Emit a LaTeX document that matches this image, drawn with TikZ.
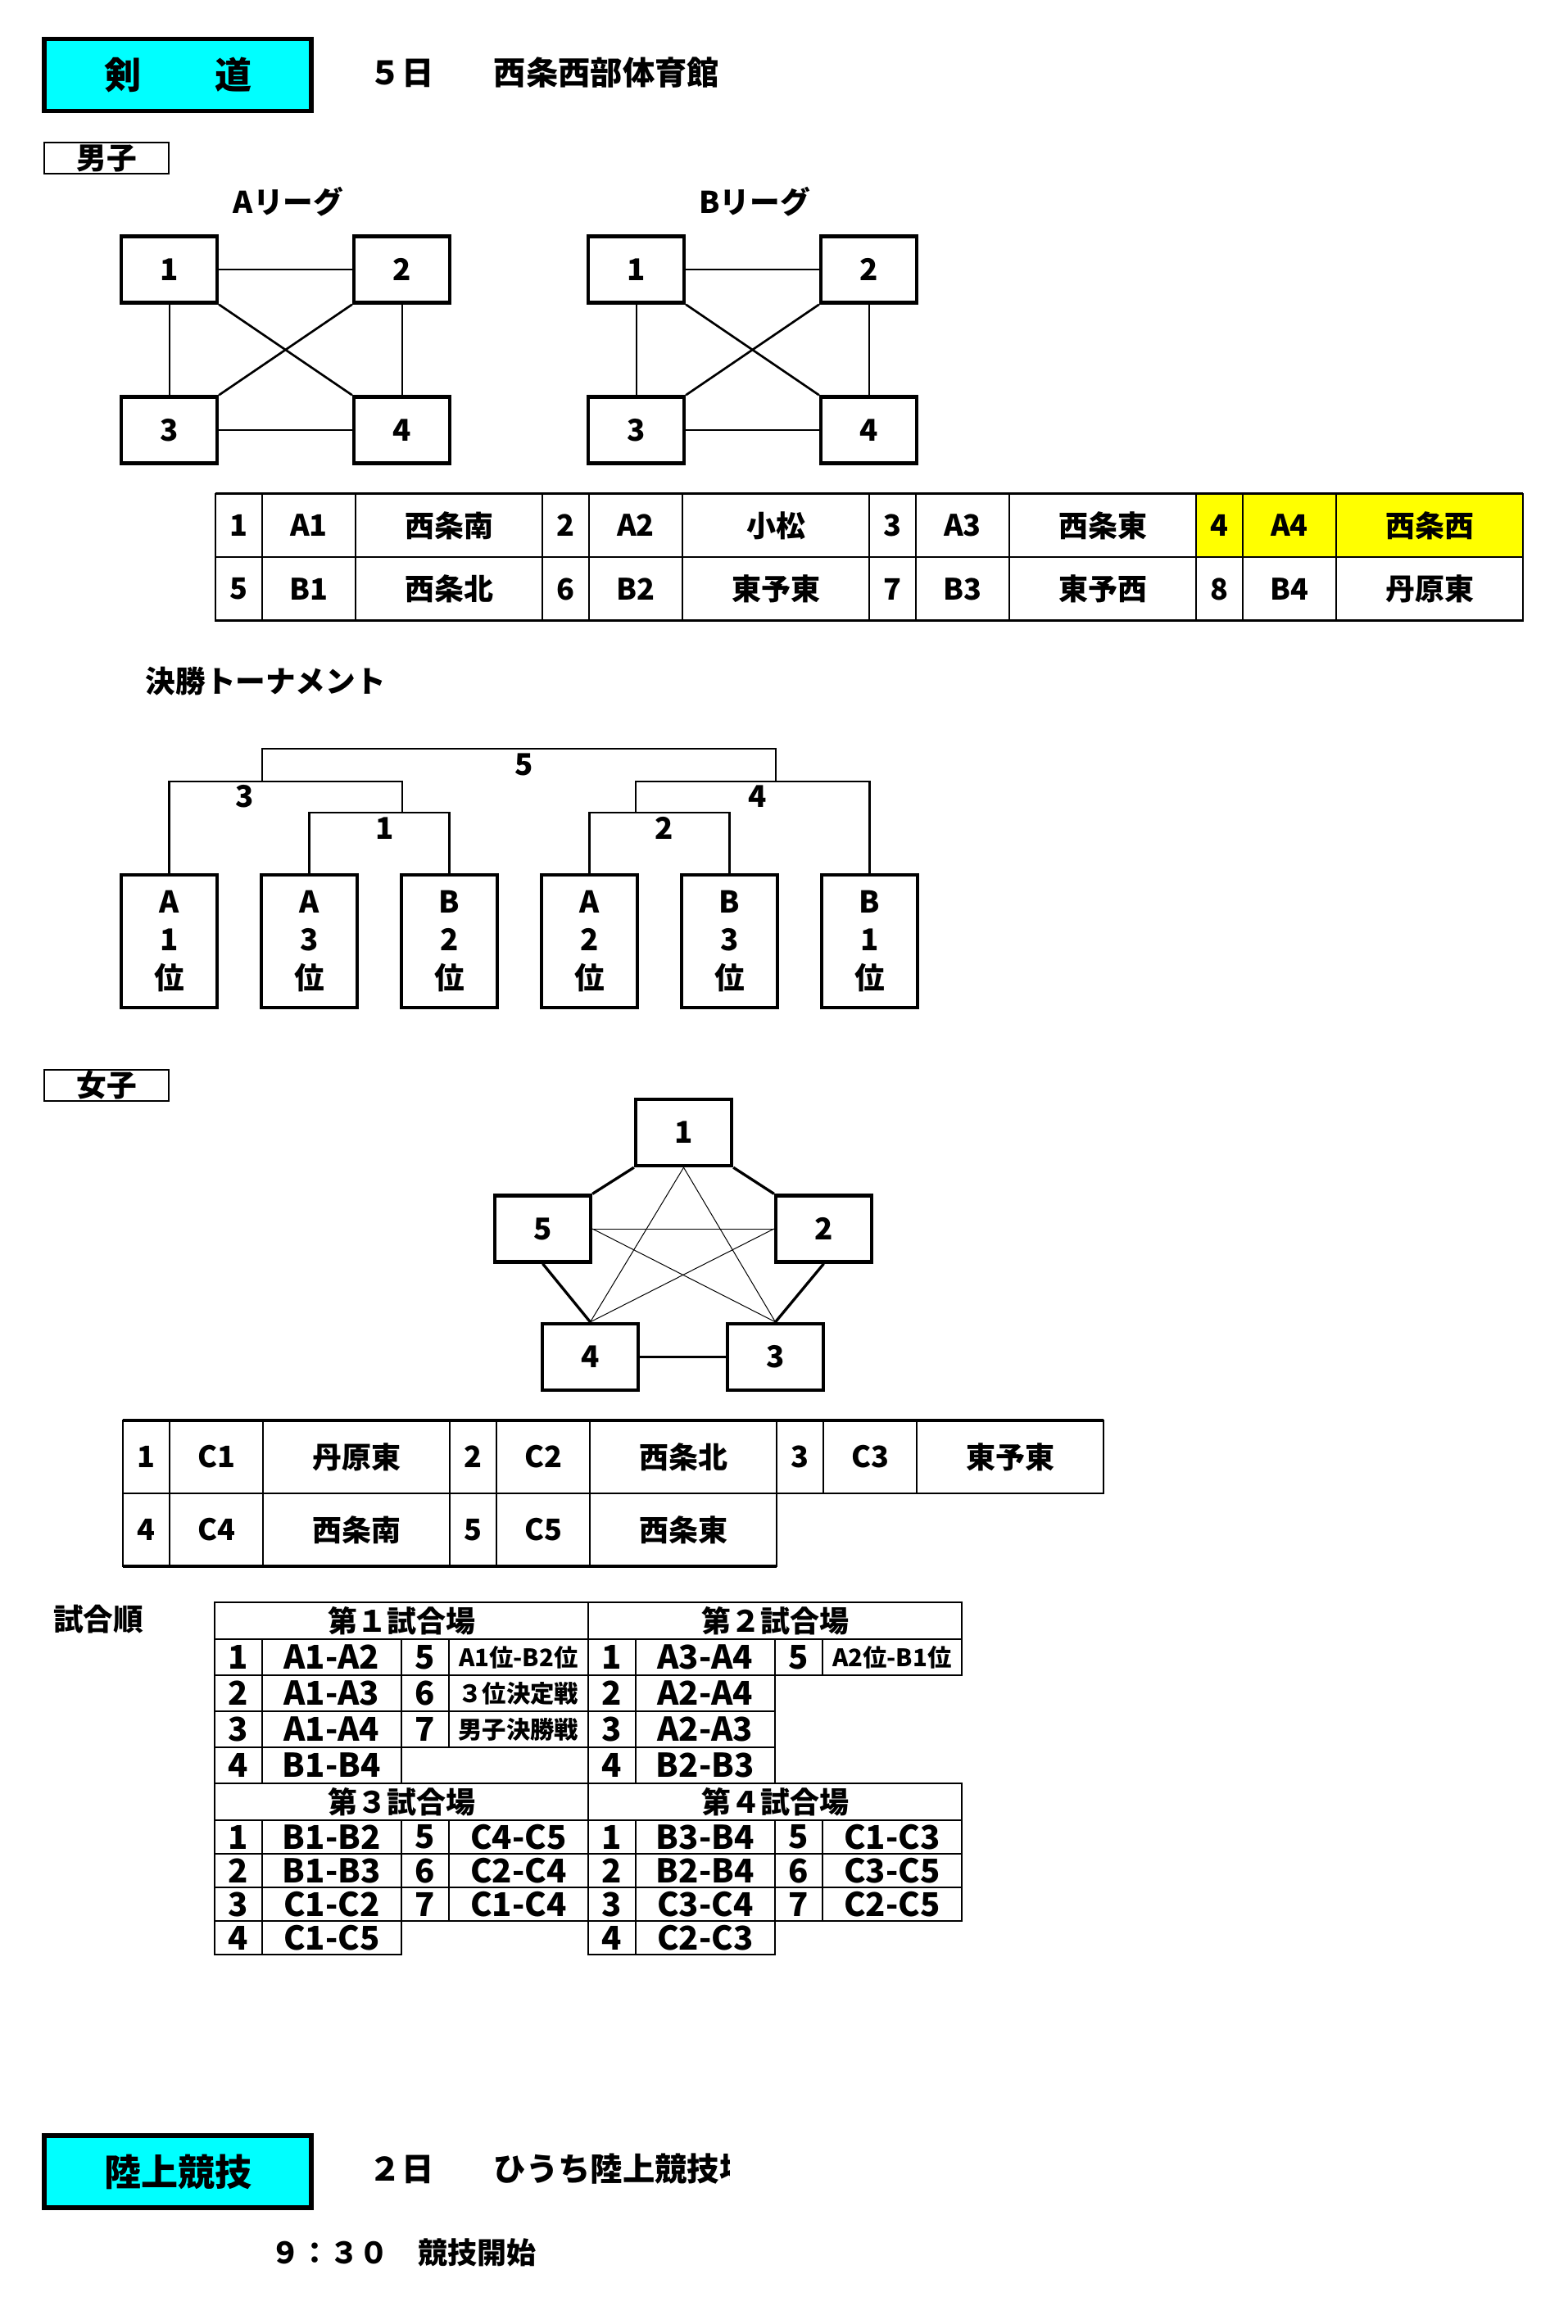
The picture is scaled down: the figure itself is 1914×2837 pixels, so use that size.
\documentclass[tikz,border=0pt]{standalone}
\usepackage{fontspec}
\setmainfont{Noto Sans CJK JP}
\usepackage{xcolor}
\usetikzlibrary{positioning}
\definecolor{aqua}{RGB}{0,255,255}
\definecolor{lemon}{RGB}{255,255,0}
\newcommand{\titlefont}{\bfseries\fontsize{13.5}{15}\selectfont}
\newcommand{\headfont}{\bfseries\fontsize{11.8}{14}\selectfont}
\newcommand{\boxfont}{\bfseries\fontsize{11}{14}\selectfont}
\newcommand{\cellfont}{\bfseries\fontsize{10.8}{12}\selectfont}
\newcommand{\gamefont}{\bfseries\fontsize{12}{13}\selectfont}
\newcommand{\smallcell}{\bfseries\fontsize{8.8}{10}\selectfont}

\begin{document}
\begin{tikzpicture}[
    x=0.3pt, y=-0.3pt,
    every node/.style={font=\boxfont, inner sep=0pt},
    eventbox/.style={draw, line width=1.6pt, fill=aqua, minimum width=97.8pt,
                     minimum height=26.4pt, font=\titlefont},
    tagbox/.style={draw, line width=0.6pt, minimum width=45.6pt, minimum height=11.4pt},
    teambox/.style={draw, line width=1.3pt, minimum width=35.1pt, minimum height=24.3pt},
    seedbox/.style={teambox, minimum height=48.6pt, align=center},
    cell/.style={draw, line width=0.6pt, outer sep=0pt, minimum height=23.25pt, font=\cellfont},
    nocell/.style={cell, minimum width=17.1pt},
    idcell/.style={cell, minimum width=34.2pt},
    teamcell/.style={cell, minimum width=68.4pt},
    gno/.style={cell, minimum width=17.25pt, minimum height=13.2pt, font=\gamefont},
    gamecell/.style={cell, minimum width=51.15pt, minimum height=13.2pt, font=\gamefont},
    fieldcell/.style={cell, minimum width=136.8pt, minimum height=13.5pt},
    link/.style={line width=0.6pt},
    cross/.style={line width=0.8pt},
    bracket/.style={line width=0.7pt},
    star/.style={line width=0.3pt},
    rim/.style={line width=1pt},
]
\useasboundingbox (0,0) rectangle (1914,2837);

% 剣道
\node[eventbox] (event1) at (217,91.5) {剣　　道};
\node[anchor=west, font=\headfont] (day1) at (450,89) {５日};
\node[anchor=west, font=\headfont] (venue1) at (602,89) {西条西部体育館};

\node[tagbox] (boys) at (130,193) {男子};

% リーグ戦
\node (leagueA) at (352,246) {Aリーグ};
\node[teambox] (a1) at (206.5,329) {1};
\node[teambox, right=48.8pt of a1] (a2) {2};
\node[teambox, below=33.2pt of a1] (a3) {3};
\node[teambox, below=33.2pt of a2] (a4) {4};
\draw[link] (a1) -- (a2);
\draw[link] (a3) -- (a4);
\draw[link] (a1) -- (a3);
\draw[link] (a2) -- (a4);
\draw[cross] (a1.south east) -- (a4.north west);
\draw[cross] (a2.south west) -- (a3.north east);

\node (leagueB) at (921,246) {Bリーグ};
\node[teambox] (b1) at (776.5,329) {1};
\node[teambox, right=48.8pt of b1] (b2) {2};
\node[teambox, below=33.2pt of b1] (b3) {3};
\node[teambox, below=33.2pt of b2] (b4) {4};
\draw[link] (b1) -- (b2);
\draw[link] (b3) -- (b4);
\draw[link] (b1) -- (b3);
\draw[link] (b2) -- (b4);
\draw[cross] (b1.south east) -- (b4.north west);
\draw[cross] (b2.south west) -- (b3.north east);

% 男子 組合せ
\node[nocell, anchor=west] (mno1) at (263,641.5) {1};
\node[idcell, right=0pt of mno1] (mA1) {A1};
\node[teamcell, right=0pt of mA1] (mtA1) {西条南};
\node[nocell, right=0pt of mtA1] (mno2) {2};
\node[idcell, right=0pt of mno2] (mA2) {A2};
\node[teamcell, right=0pt of mA2] (mtA2) {小松};
\node[nocell, right=0pt of mtA2] (mno3) {3};
\node[idcell, right=0pt of mno3] (mA3) {A3};
\node[teamcell, right=0pt of mA3] (mtA3) {西条東};
\node[nocell, fill=lemon, right=0pt of mtA3] (mno4) {4};
\node[idcell, fill=lemon, right=0pt of mno4] (mA4) {A4};
\node[teamcell, fill=lemon, right=0pt of mA4] (mtA4) {西条西};
\node[nocell, below=0pt of mno1] (mno5) {5};
\node[idcell, right=0pt of mno5] (mB1) {B1};
\node[teamcell, right=0pt of mB1] (mtB1) {西条北};
\node[nocell, right=0pt of mtB1] (mno6) {6};
\node[idcell, right=0pt of mno6] (mB2) {B2};
\node[teamcell, right=0pt of mB2] (mtB2) {東予東};
\node[nocell, right=0pt of mtB2] (mno7) {7};
\node[idcell, right=0pt of mno7] (mB3) {B3};
\node[teamcell, right=0pt of mB3] (mtB3) {東予西};
\node[nocell, right=0pt of mtB3] (mno8) {8};
\node[idcell, right=0pt of mno8] (mB4) {B4};
\node[teamcell, right=0pt of mB4] (mtB4) {丹原東};
\draw[rim] (mno1.north west) -- (mtA4.north east);
\draw[rim] (mno5.south west) -- (mtB4.south east);

% 決勝トーナメント
\node[anchor=west] (final) at (177,832) {決勝トーナメント};
\node[seedbox] (sA1) at (206.5,1149) {A\\1\\位};
\node[seedbox, right=14.9pt of sA1] (sA3) {A\\3\\位};
\node[seedbox, right=14.9pt of sA3] (sB2) {B\\2\\位};
\node[seedbox, right=14.9pt of sB2] (sA2) {A\\2\\位};
\node[seedbox, right=14.9pt of sA2] (sB3) {B\\3\\位};
\node[seedbox, right=14.9pt of sB3] (sB1) {B\\1\\位};
\coordinate (m1) at (491,992);
\coordinate (m2) at (776,992);
\coordinate (m3) at (320,954);
\coordinate (m4) at (947,954);
\coordinate (m5) at (640,914);
\draw[bracket] (sA3.north) |- (m1) -| (sB2.north);
\draw[bracket] (sA2.north) |- (m2) -| (sB3.north);
\draw[bracket] (sA1.north) |- (m3) -| (m1);
\draw[bracket] (m2) |- (m4) -| (sB1.north);
\draw[bracket] (m3) |- (m5) -| (m4);
\node (w1) at (470,1011) {1};
\node (w2) at (811,1011) {2};
\node (w3) at (299,972) {3};
\node (w4) at (925,972) {4};
\node (w5) at (640,933) {5};

% 女子
\node[tagbox] (girls) at (130,1324.5) {女子};
\node[teambox] (p1) at (834.5,1382.5) {1};
\node[teambox] (p2) at (1005.5,1500) {2};
\node[teambox] (p3) at (946.5,1656.5) {3};
\node[teambox] (p4) at (720.5,1656.5) {4};
\node[teambox] (p5) at (662.5,1500) {5};
\draw[rim] (p1.south west) -- (p5.north east);
\draw[rim] (p1.south east) -- (p2.north west);
\draw[rim] (p5.south) -- (p4.north);
\draw[rim] (p2.south) -- (p3.north);
\draw[bracket] (p4) -- (p3);
\draw[star] (p1.south) -- (p4.north);
\draw[star] (p1.south) -- (p3.north);
\draw[star] (p5.east) -- (p2.west);
\draw[star] (p5.east) -- (p3.north);
\draw[star] (p2.west) -- (p4.north);

\begin{scope}[nocell/.append style={minimum height=26.7pt},
              idcell/.append style={minimum height=26.7pt},
              teamcell/.append style={minimum height=26.7pt}]
\node[nocell, anchor=west] (wno1) at (150,1778.5) {1};
\node[idcell, right=0pt of wno1] (wC1) {C1};
\node[teamcell, right=0pt of wC1] (wtC1) {丹原東};
\node[nocell, right=0pt of wtC1] (wno2) {2};
\node[idcell, right=0pt of wno2] (wC2) {C2};
\node[teamcell, right=0pt of wC2] (wtC2) {西条北};
\node[nocell, right=0pt of wtC2] (wno3) {3};
\node[idcell, right=0pt of wno3] (wC3) {C3};
\node[teamcell, right=0pt of wC3] (wtC3) {東予東};
\node[nocell, below=0pt of wno1] (wno4) {4};
\node[idcell, right=0pt of wno4] (wC4) {C4};
\node[teamcell, right=0pt of wC4] (wtC4) {西条南};
\node[nocell, right=0pt of wtC4] (wno5) {5};
\node[idcell, right=0pt of wno5] (wC5) {C5};
\node[teamcell, right=0pt of wC5] (wtC5) {西条東};
\end{scope}
\draw[rim] (wno1.north west) -- (wtC3.north east);
\draw[rim] (wno4.south west) -- (wtC5.south east);

% 試合順
\node (order) at (120,1977) {試合順};
\node[fieldcell, anchor=west] (f1) at (262,1978.5) {第１試合場};
\node[fieldcell, right=0pt of f1] (f2) {第２試合場};
\node[gno, anchor=north west] (g1n1) at (f1.south west) {1};
\node[gamecell, right=0pt of g1n1] (g1m1) {A1-A2};
\node[gno, right=0pt of g1m1] (g1n5) {5};
\node[gamecell, right=0pt of g1n5, font=\smallcell] (g1m5) {A1位-B2位};
\node[gno, right=0pt of g1m5] (g2n1) {1};
\node[gamecell, right=0pt of g2n1] (g2m1) {A3-A4};
\node[gno, right=0pt of g2m1] (g2n5) {5};
\node[gamecell, right=0pt of g2n5, font=\smallcell] (g2m5) {A2位-B1位};
\node[gno, below=0pt of g1n1] (g1n2) {2};
\node[gamecell, right=0pt of g1n2] (g1m2) {A1-A3};
\node[gno, right=0pt of g1m2] (g1n6) {6};
\node[gamecell, right=0pt of g1n6, font=\smallcell] (g1m6) {３位決定戦};
\node[gno, below=0pt of g2n1] (g2n2) {2};
\node[gamecell, right=0pt of g2n2] (g2m2) {A2-A4};
\node[gno, below=0pt of g1n2] (g1n3) {3};
\node[gamecell, right=0pt of g1n3] (g1m3) {A1-A4};
\node[gno, right=0pt of g1m3] (g1n7) {7};
\node[gamecell, right=0pt of g1n7, font=\smallcell] (g1m7) {男子決勝戦};
\node[gno, below=0pt of g2n2] (g2n3) {3};
\node[gamecell, right=0pt of g2n3] (g2m3) {A2-A3};
\node[gno, below=0pt of g1n3] (g1n4) {4};
\node[gamecell, right=0pt of g1n4] (g1m4) {B1-B4};
\node[gno, below=0pt of g2n3] (g2n4) {4};
\node[gamecell, right=0pt of g2n4] (g2m4) {B2-B3};

\node[fieldcell, anchor=north west] (f3) at (g1n4.south west) {第３試合場};
\node[fieldcell, right=0pt of f3] (f4) {第４試合場};
\begin{scope}[gno/.append style={minimum height=12.3pt},
              gamecell/.append style={minimum height=12.3pt}]
\node[gno, anchor=north west] (g3n1) at (f3.south west) {1};
\node[gamecell, right=0pt of g3n1] (g3m1) {B1-B2};
\node[gno, right=0pt of g3m1] (g3n5) {5};
\node[gamecell, right=0pt of g3n5] (g3m5) {C4-C5};
\node[gno, right=0pt of g3m5] (g4n1) {1};
\node[gamecell, right=0pt of g4n1] (g4m1) {B3-B4};
\node[gno, right=0pt of g4m1] (g4n5) {5};
\node[gamecell, right=0pt of g4n5] (g4m5) {C1-C3};
\node[gno, below=0pt of g3n1] (g3n2) {2};
\node[gamecell, right=0pt of g3n2] (g3m2) {B1-B3};
\node[gno, right=0pt of g3m2] (g3n6) {6};
\node[gamecell, right=0pt of g3n6] (g3m6) {C2-C4};
\node[gno, right=0pt of g3m6] (g4n2) {2};
\node[gamecell, right=0pt of g4n2] (g4m2) {B2-B4};
\node[gno, right=0pt of g4m2] (g4n6) {6};
\node[gamecell, right=0pt of g4n6] (g4m6) {C3-C5};
\node[gno, below=0pt of g3n2] (g3n3) {3};
\node[gamecell, right=0pt of g3n3] (g3m3) {C1-C2};
\node[gno, right=0pt of g3m3] (g3n7) {7};
\node[gamecell, right=0pt of g3n7] (g3m7) {C1-C4};
\node[gno, right=0pt of g3m7] (g4n3) {3};
\node[gamecell, right=0pt of g4n3] (g4m3) {C3-C4};
\node[gno, right=0pt of g4m3] (g4n7) {7};
\node[gamecell, right=0pt of g4n7] (g4m7) {C2-C5};
\node[gno, below=0pt of g3n3] (g3n4) {4};
\node[gamecell, right=0pt of g3n4] (g3m4) {C1-C5};
\node[gno, below=0pt of g4n3] (g4n4) {4};
\node[gamecell, right=0pt of g4n4] (g4m4) {C2-C3};
\end{scope}

% 陸上競技
\node[eventbox] (event2) at (217,2651) {陸上競技};
\node[anchor=west, font=\headfont] (day2) at (450,2648) {２日};
\begin{scope}
  \clip (590,2600) rectangle (890,2700);
  \node[anchor=west, font=\headfont] (venue2) at (602,2648) {ひうち陸上競技場};
\end{scope}
\node[anchor=west, font=\cellfont] (start2) at (330,2750) {９：３０　競技開始};
\end{tikzpicture}
\end{document}
